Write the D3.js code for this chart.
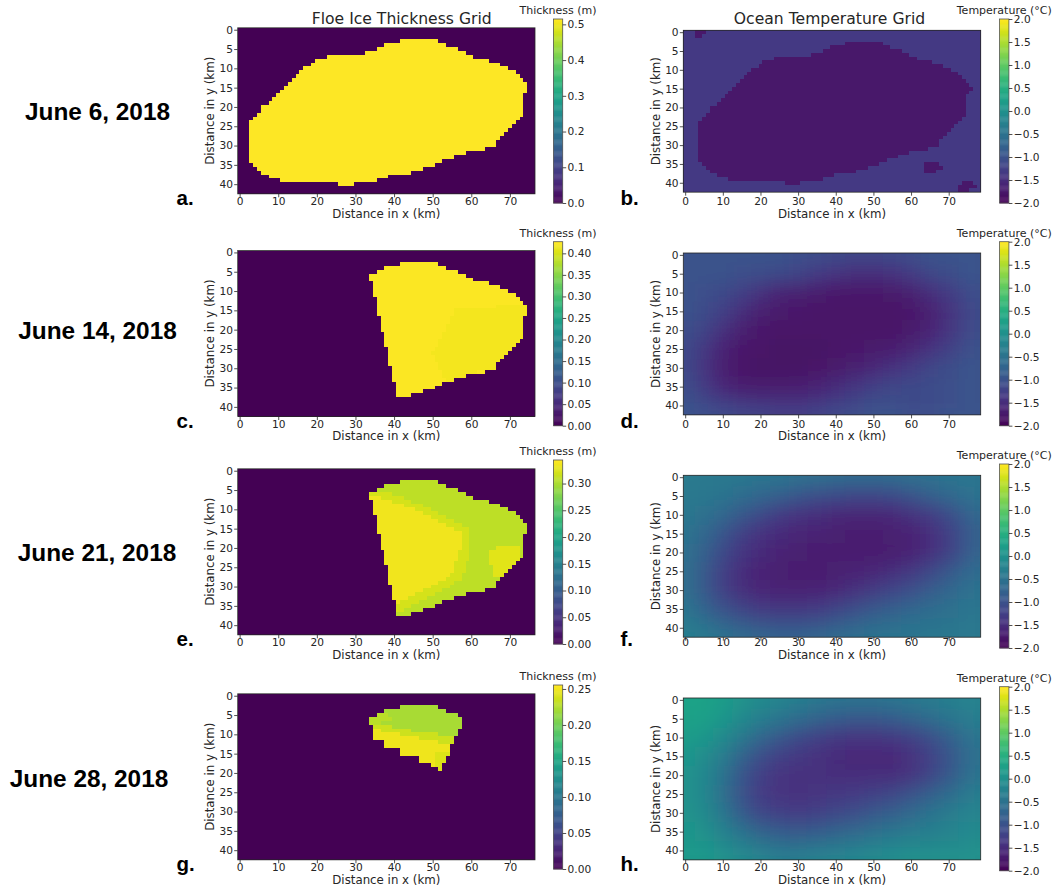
<!DOCTYPE html>
<html>
<head>
<meta charset="utf-8">
<title>Floe ice thickness and ocean temperature grids</title>
<script src="https://cdn.jsdelivr.net/npm/d3@7"></script>
<style>
  html, body { margin: 0; padding: 0; background: #ffffff; }
  svg { display: block; }
</style>
</head>
<body>
<svg id="fig" width="1055" height="892"></svg>
<script>
// ---------------- data ----------------
const dateLabels = ["June 6, 2018", "June 14, 2018", "June 21, 2018", "June 28, 2018"];
const iceLetters = ["a.", "c.", "e.", "g."];
const oceanLetters = ["b.", "d.", "f.", "h."];

// grid sizes (1 km cells)
const iceCols = 77, oceanCols = 79, gridRows = 43;
const xTicks = [0, 10, 20, 30, 40, 50, 60, 70];
const yTicks = [0, 5, 10, 15, 20, 25, 30, 35, 40];

// thickness colour limits (m) and colourbar ticks
const thickMax = [0.515, 0.427, 0.344, 0.2555];
const thickTicks = [
  [0, 0.1, 0.2, 0.3, 0.4, 0.5],
  [0, 0.05, 0.10, 0.15, 0.20, 0.25, 0.30, 0.35, 0.40],
  [0, 0.05, 0.10, 0.15, 0.20, 0.25, 0.30],
  [0, 0.05, 0.10, 0.15, 0.20, 0.25]
];
const thickTickFormat = [".1f", ".2f", ".2f", ".2f"];

// temperature colour limits (°C) and ticks
const tempDomain = [-2, 2];
const tempTicks = [-2, -1.5, -1, -0.5, 0, 0.5, 1, 1.5, 2];

// floe outlines: [row, first column, last column]
const floeJun6 = [[3,42,51],[4,38,53],[5,36,56],[6,33,58],[7,23,60],[8,20,64],[9,19,67],[10,17,69],
  [11,16,71],[12,15,72],[13,14,73],[14,13,74],[15,12,74],[16,11,74],[17,10,73],[18,9,73],[19,8,73],
  [20,6,73],[21,6,73],[22,5,73],[23,4,72],[24,3,71],[25,3,70],[26,3,69],[27,3,68],[28,3,67],[29,3,66],
  [30,3,66],[31,3,63],[32,3,58],[33,3,55],[34,3,52],[35,4,50],[36,5,47],[37,6,44],[38,8,38],[39,11,35],
  [40,26,29]];
const floeJun14 = [[3,42,51],[4,38,53],[5,36,56],[6,34,58],[7,34,60],[8,35,64],[9,35,67],[10,35,69],
  [11,35,71],[12,36,72],[13,36,73],[14,36,74],[15,36,74],[16,36,74],[17,37,73],[18,37,73],[19,37,73],
  [20,37,73],[21,38,73],[22,38,73],[23,38,72],[24,38,71],[25,39,70],[26,39,69],[27,39,68],[28,39,67],
  [29,39,66],[30,40,66],[31,40,63],[32,40,58],[33,40,55],[34,41,52],[35,41,50],[36,41,47],[37,41,44]];
const floeJun21 = floeJun14;
const floeJun28 = [[3,42,51],[4,38,53],[5,36,56],[6,34,57],[7,34,57],[8,35,57],[9,35,56],[10,35,56],
  [11,35,55],[12,38,55],[13,38,54],[14,42,54],[15,42,54],[16,47,53],[17,47,53],[18,50,52],[19,52,52]];
const floeOutlines = [floeJun6, floeJun14, floeJun21, floeJun28];

// thickness inside each floe: base value plus zones (km polygons, later zones on top)
const iceBase = [0.515, 0.425, 0.31, 0.222];
const iceZones = [
  [],
  [ { v: 0.419, poly: [[56,15],[77,13],[77,31],[62,31],[54,34],[50,26]] } ],
  [ { v: 0.322, poly: [[30,4.5],[38,5.5],[45,8],[52,11],[60,15.5],[59.5,22],[57.5,28],[53,31],[48,33.5],[44,35.5],[40,37.5],[30,38]] },
    { v: 0.337, poly: [[30,5.5],[37,7],[43,9],[50,12],[58,16.5],[56.5,22],[55,27],[51,29.5],[47,31.5],[43,33.5],[39,35],[30,35.5]] },
    { v: 0.329, poly: [[64.5,21],[68,19.5],[73,19.5],[73,24],[69,27.5],[65.5,27]] } ],
  [ { v: 0.229, poly: [[33,4.5],[38,4.5],[40,6.5],[33,7.5]] },
    { v: 0.236, poly: [[30,6.5],[40,8],[48,9.6],[56,10.6],[60,10.8],[60,25],[30,25]] },
    { v: 0.249, poly: [[30,8],[40,9.6],[48,11.2],[55,12.8],[60,13.5],[60,25],[30,25]] },
    { v: 0.242, poly: [[51,15],[60,14],[60,25],[51,25]] } ]
];

// ocean temperature on June 6: cold water under the floe and a few cold patches
const oceanColdJun6 = [[0,3,5],[1,3,4],
  [3,43,52],[4,39,54],[5,37,57],[6,34,59],[7,24,61],[8,21,65],[9,20,68],[10,18,70],[11,17,72],
  [12,16,73],[13,15,74],[14,14,75],[15,13,76],[16,12,75],[17,11,74],[18,10,74],[19,9,74],[20,7,74],
  [21,7,74],[22,6,74],[23,5,73],[24,4,72],[25,4,71],[26,4,70],[27,4,69],[28,4,68],[29,4,67],[30,4,67],
  [31,4,64],[32,4,59],[33,4,56],[34,4,53],[35,5,51],[36,6,48],[37,7,45],[38,9,39],[39,12,36],[40,27,30],
  [35,64,67],[36,64,68],[37,64,66],[40,74,76],[41,73,77],[42,73,75]];
const oceanColdJun6Temp = -1.75;
const oceanOpenJun6Temp = -1.33;

// later ocean temperature fields, sampled every 5 km
const sampleX = [0, 5, 10, 15, 20, 25, 30, 35, 40, 45, 50, 55, 60, 65, 70, 75, 78];
const sampleY = [0, 5, 10, 15, 20, 25, 30, 35, 40, 42];
const tempJun14 = [
  [-1.0,-1.0,-1.0,-1.0,-1.0,-1.0,-1.02,-1.05,-1.1,-1.15,-1.15,-1.1,-1.05,-1.0,-1.0,-1.0,-1.0],
  [-1.0,-1.0,-1.0,-1.02,-1.05,-1.1,-1.2,-1.3,-1.4,-1.5,-1.5,-1.45,-1.3,-1.15,-1.05,-1.0,-1.0],
  [-1.0,-1.02,-1.1,-1.25,-1.45,-1.6,-1.65,-1.7,-1.75,-1.75,-1.75,-1.72,-1.65,-1.5,-1.3,-1.1,-1.02],
  [-1.0,-1.08,-1.25,-1.5,-1.65,-1.72,-1.75,-1.77,-1.78,-1.78,-1.78,-1.78,-1.75,-1.65,-1.45,-1.2,-1.08],
  [-1.05,-1.2,-1.45,-1.65,-1.75,-1.78,-1.78,-1.78,-1.78,-1.78,-1.78,-1.77,-1.72,-1.6,-1.4,-1.15,-1.05],
  [-1.1,-1.35,-1.62,-1.75,-1.78,-1.8,-1.8,-1.8,-1.78,-1.75,-1.72,-1.68,-1.58,-1.42,-1.22,-1.05,-1.0],
  [-1.1,-1.4,-1.65,-1.77,-1.8,-1.8,-1.8,-1.78,-1.72,-1.65,-1.55,-1.42,-1.3,-1.15,-1.05,-1.0,-1.0],
  [-1.05,-1.3,-1.55,-1.68,-1.7,-1.7,-1.68,-1.62,-1.52,-1.38,-1.25,-1.15,-1.1,-1.08,-1.02,-1.0,-1.0],
  [-1.0,-1.1,-1.22,-1.32,-1.38,-1.4,-1.4,-1.35,-1.25,-1.15,-1.05,-1.05,-1.1,-1.08,-1.02,-1.0,-1.0],
  [-1.0,-1.02,-1.08,-1.15,-1.2,-1.22,-1.22,-1.18,-1.1,-1.05,-1.0,-1.0,-1.02,-1.02,-1.0,-1.0,-1.0]
];
const tempJun21 = [
  [-0.35,-0.38,-0.4,-0.42,-0.45,-0.48,-0.52,-0.56,-0.6,-0.62,-0.62,-0.6,-0.56,-0.52,-0.48,-0.45,-0.45],
  [-0.38,-0.42,-0.48,-0.58,-0.7,-0.82,-0.95,-1.05,-1.12,-1.18,-1.18,-1.1,-0.98,-0.82,-0.68,-0.55,-0.5],
  [-0.42,-0.52,-0.68,-0.9,-1.12,-1.3,-1.42,-1.5,-1.55,-1.58,-1.58,-1.55,-1.45,-1.3,-1.08,-0.82,-0.65],
  [-0.48,-0.66,-0.95,-1.22,-1.42,-1.52,-1.58,-1.62,-1.65,-1.66,-1.66,-1.65,-1.6,-1.48,-1.25,-0.95,-0.75],
  [-0.52,-0.78,-1.1,-1.38,-1.52,-1.6,-1.65,-1.67,-1.68,-1.68,-1.68,-1.66,-1.6,-1.46,-1.22,-0.9,-0.7],
  [-0.55,-0.88,-1.25,-1.48,-1.6,-1.65,-1.67,-1.67,-1.65,-1.62,-1.57,-1.48,-1.35,-1.15,-0.92,-0.7,-0.58],
  [-0.55,-0.88,-1.25,-1.48,-1.57,-1.62,-1.63,-1.6,-1.55,-1.45,-1.32,-1.18,-1.02,-0.86,-0.7,-0.56,-0.5],
  [-0.45,-0.72,-1.0,-1.2,-1.32,-1.36,-1.36,-1.3,-1.2,-1.06,-0.92,-0.8,-0.7,-0.6,-0.52,-0.46,-0.45],
  [-0.35,-0.48,-0.65,-0.8,-0.9,-0.95,-0.95,-0.9,-0.8,-0.7,-0.6,-0.55,-0.5,-0.47,-0.45,-0.42,-0.42],
  [-0.3,-0.38,-0.5,-0.6,-0.68,-0.72,-0.72,-0.68,-0.6,-0.55,-0.5,-0.46,-0.44,-0.42,-0.4,-0.4,-0.4]
];
const tempJun28 = [
  [0.3,0.3,0.2,0.05,-0.1,-0.2,-0.3,-0.4,-0.45,-0.5,-0.5,-0.45,-0.4,-0.35,-0.3,-0.25,-0.25],
  [0.3,0.25,0.1,-0.1,-0.3,-0.45,-0.6,-0.75,-0.85,-0.9,-0.9,-0.85,-0.75,-0.6,-0.45,-0.35,-0.3],
  [0.2,0.1,-0.1,-0.4,-0.7,-0.9,-1.1,-1.25,-1.35,-1.4,-1.4,-1.35,-1.25,-1.05,-0.8,-0.55,-0.45],
  [0.1,-0.05,-0.35,-0.75,-1.05,-1.25,-1.35,-1.45,-1.52,-1.55,-1.56,-1.56,-1.45,-1.25,-0.95,-0.65,-0.5],
  [0.05,-0.15,-0.5,-0.95,-1.25,-1.4,-1.45,-1.45,-1.5,-1.5,-1.5,-1.5,-1.4,-1.2,-0.9,-0.6,-0.45],
  [0.05,-0.15,-0.55,-1.0,-1.3,-1.4,-1.42,-1.4,-1.35,-1.3,-1.25,-1.15,-1.0,-0.8,-0.6,-0.4,-0.3],
  [0.05,-0.1,-0.45,-0.85,-1.15,-1.25,-1.3,-1.25,-1.15,-1.05,-0.9,-0.8,-0.65,-0.5,-0.35,-0.25,-0.2],
  [0.1,0.0,-0.25,-0.5,-0.75,-0.85,-0.9,-0.85,-0.75,-0.65,-0.55,-0.45,-0.35,-0.3,-0.2,-0.15,-0.1],
  [0.15,0.1,-0.05,-0.2,-0.35,-0.45,-0.45,-0.4,-0.35,-0.3,-0.2,-0.15,-0.1,-0.1,-0.05,-0.05,0.0],
  [0.15,0.15,0.05,-0.1,-0.2,-0.3,-0.3,-0.25,-0.2,-0.15,-0.1,-0.05,0.0,0.0,0.0,0.0,0.0]
];
const smoothFields = [null, tempJun14, tempJun21, tempJun28];

// ---------------- layout ----------------
const iceFrame = { x: 237.7, w: 297.3 };
const oceanFrame = { x: 683.3, w: 297.4 };
const iceBar = { x: 553.4, w: 9.3 };
const oceanBar = { x: 999.6, w: 9.3 };
const barH = 184;
const iceBarTop = [19, 241.7, 460, 685];
const oceanBarTop = [19, 241.7, 464, 686.7];
const dateCenter = [[97.5, 111], [97.5, 330], [97, 552], [89, 778]];

const SANS = '"DejaVu Sans", "Liberation Sans", sans-serif';
const BOLD = '"Liberation Sans", Arial, Helvetica, sans-serif';
const INK = "#262626";
const TICK_FONT = 10.6;

const svg = d3.select("#fig");
const defs = svg.append("defs");
defs.append("filter").attr("id", "soften")
  .attr("x", "-10%").attr("y", "-10%").attr("width", "120%").attr("height", "120%")
  .append("feGaussianBlur").attr("stdDeviation", 9);

const tempColor = d3.scaleSequential(d3.interpolateViridis).domain(tempDomain);

function maskFromSegments(segs, ncols) {
  const m = d3.range(gridRows).map(() => new Array(ncols).fill(false));
  segs.forEach(([r, a, b]) => { for (let c = a; c <= b; c++) m[r][c] = true; });
  return m;
}

function iceCells(k) {
  const mask = maskFromSegments(floeOutlines[k], iceCols);
  const cells = [];
  for (let j = 0; j < gridRows; j++) {
    for (let i = 0; i < iceCols; i++) {
      let v = 0;
      if (mask[j][i]) {
        v = iceBase[k];
        iceZones[k].forEach(z => { if (d3.polygonContains(z.poly, [i, j])) v = z.v; });
      }
      cells.push({ i, j, v });
    }
  }
  return cells;
}

function oceanJun6Cells() {
  const mask = maskFromSegments(oceanColdJun6, oceanCols);
  const cells = [];
  for (let j = 0; j < gridRows; j++)
    for (let i = 0; i < oceanCols; i++)
      cells.push({ i, j, v: mask[j][i] ? oceanColdJun6Temp : oceanOpenJun6Temp });
  return cells;
}

function drawCells(g, cells, xs, ys, color) {
  g.append("g").selectAll("rect").data(cells).join("rect")
    .attr("x", d => xs(d.i - 0.5))
    .attr("y", d => ys(d.j - 0.5))
    .attr("width", d => xs(d.i + 0.5) - xs(d.i - 0.5))
    .attr("height", d => ys(d.j + 0.5) - ys(d.j - 0.5))
    .attr("fill", d => color(d.v))
    .attr("shape-rendering", "crispEdges");
}

function sampleEdges(samples, lo, hi) {
  const e = [lo];
  for (let k = 1; k < samples.length; k++) e.push((samples[k - 1] + samples[k]) / 2);
  e.push(hi);
  return e;
}

function drawSmoothField(g, field, xs, ys, clipId) {
  const ex = sampleEdges(sampleX, -15, 95);
  const ey = sampleEdges(sampleY, -15, 60);
  const cells = [];
  field.forEach((row, j) => row.forEach((v, i) => cells.push({ i, j, v })));
  g.append("g").attr("clip-path", `url(#${clipId})`)
    .append("g").attr("filter", "url(#soften)")
    .selectAll("rect").data(cells).join("rect")
    .attr("x", d => xs(ex[d.i]))
    .attr("y", d => ys(ey[d.j]))
    .attr("width", d => xs(ex[d.i + 1]) - xs(ex[d.i]) + 0.6)
    .attr("height", d => ys(ey[d.j + 1]) - ys(ey[d.j]) + 0.6)
    .attr("fill", d => tempColor(d.v));
}

function styleAxis(sel, fontSize) {
  sel.select(".domain").remove();
  sel.selectAll(".tick line").attr("stroke", INK).attr("stroke-width", 0.8);
  sel.selectAll(".tick text").attr("fill", INK)
    .attr("font-family", SANS).attr("font-size", fontSize);
}

function drawAxes(g, xs, ys, frame, top, h, barTop) {
  const bottom = top + h;
  const gx = g.append("g").attr("transform", `translate(0,${bottom})`)
    .call(d3.axisBottom(xs).tickValues(xTicks).tickSize(3.5).tickFormat(d3.format("d")));
  styleAxis(gx, TICK_FONT);
  gx.selectAll(".tick text").attr("dy", null).attr("y", barTop + 185.9 - bottom);

  const gy = g.append("g").attr("transform", `translate(${frame.x},0)`)
    .call(d3.axisLeft(ys).tickValues(yTicks).tickSize(3.5).tickPadding(1.2).tickFormat(d3.format("d")));
  styleAxis(gy, TICK_FONT);

  g.append("rect").attr("x", frame.x).attr("y", top)
    .attr("width", frame.w).attr("height", h)
    .attr("fill", "none").attr("stroke", INK).attr("stroke-width", 0.8);

  g.append("text").attr("x", frame.x + frame.w / 2).attr("y", barTop + 198.5)
    .attr("text-anchor", "middle").attr("font-family", SANS).attr("font-size", 11.8)
    .attr("fill", INK).text("Distance in x (km)");

  const cy = top + h / 2;
  g.append("text").attr("transform", `translate(${frame.x - 23.6},${cy}) rotate(-90)`)
    .attr("text-anchor", "middle").attr("font-family", SANS).attr("font-size", 11.8)
    .attr("fill", INK).text("Distance in y (km)");
}

function drawColorbar(g, bar, top, color, domain, ticks, fmt, label) {
  const y = d3.scaleLinear().domain(domain).range([top + barH, top]);
  const n = 200;
  const step = (domain[1] - domain[0]) / n;
  const stops = d3.range(n).map(k => domain[0] + k * step);
  g.append("g").selectAll("rect").data(stops).join("rect")
    .attr("x", bar.x).attr("width", bar.w)
    .attr("y", d => y(d + step))
    .attr("height", d => y(d) - y(d + step) + 0.4)
    .attr("fill", d => color(d + step / 2));
  g.append("rect").attr("x", bar.x).attr("y", top).attr("width", bar.w).attr("height", barH)
    .attr("fill", "none").attr("stroke", "#555").attr("stroke-width", 0.8);
  const ga = g.append("g").attr("transform", `translate(${bar.x + bar.w},0)`)
    .call(d3.axisRight(y).tickValues(ticks).tickSize(3.5).tickPadding(1.4).tickFormat(d3.format(fmt)));
  styleAxis(ga, TICK_FONT);
  g.append("text").attr("x", bar.x + bar.w / 2).attr("y", top - 4.6)
    .attr("text-anchor", "middle").attr("font-family", SANS).attr("font-size", 11)
    .attr("fill", INK).text(label);
}

// ---------------- draw rows ----------------
dateLabels.forEach((date, r) => {
  const row = svg.append("g");

  // ice thickness panel
  const iTop = iceBarTop[r] + 8.8;
  const iH = iceFrame.w * gridRows / iceCols;
  const ixs = d3.scaleLinear().domain([-0.5, iceCols - 0.5]).range([iceFrame.x, iceFrame.x + iceFrame.w]);
  const iys = d3.scaleLinear().domain([-0.5, gridRows - 0.5]).range([iTop, iTop + iH]);
  const thickColor = d3.scaleSequential(d3.interpolateViridis).domain([0, thickMax[r]]);
  drawCells(row, iceCells(r), ixs, iys, thickColor);
  drawAxes(row, ixs, iys, iceFrame, iTop, iH, iceBarTop[r]);
  drawColorbar(row, iceBar, iceBarTop[r], thickColor, [0, thickMax[r]], thickTicks[r], thickTickFormat[r], "Thickness (m)");

  // ocean temperature panel
  const oTop = oceanBarTop[r] + 11.3;
  const oH = oceanFrame.w * gridRows / oceanCols;
  const oxs = d3.scaleLinear().domain([-0.5, oceanCols - 0.5]).range([oceanFrame.x, oceanFrame.x + oceanFrame.w]);
  const oys = d3.scaleLinear().domain([-0.5, gridRows - 0.5]).range([oTop, oTop + oH]);
  if (smoothFields[r]) {
    const clipId = "oceanClip" + r;
    defs.append("clipPath").attr("id", clipId).append("rect")
      .attr("x", oceanFrame.x).attr("y", oTop).attr("width", oceanFrame.w).attr("height", oH);
    drawSmoothField(row, smoothFields[r], oxs, oys, clipId);
  } else {
    drawCells(row, oceanJun6Cells(), oxs, oys, tempColor);
  }
  drawAxes(row, oxs, oys, oceanFrame, oTop, oH, iceBarTop[r]);
  drawColorbar(row, oceanBar, oceanBarTop[r], tempColor, tempDomain, tempTicks, ".1f", "Temperature (°C)");

  // date and panel letters
  row.append("text").attr("x", dateCenter[r][0]).attr("y", dateCenter[r][1] + 8.8)
    .attr("text-anchor", "middle").attr("font-family", BOLD).attr("font-weight", "bold")
    .attr("font-size", 24.4).attr("fill", "#000").text(date);
  row.append("text").attr("x", 176.5).attr("y", iceBarTop[r] + 186.3)
    .attr("font-family", BOLD).attr("font-weight", "bold").attr("font-size", 20.5)
    .attr("fill", "#000").text(iceLetters[r]);
  row.append("text").attr("x", 620.5).attr("y", iceBarTop[r] + 186.3)
    .attr("font-family", BOLD).attr("font-weight", "bold").attr("font-size", 20.5)
    .attr("fill", "#000").text(oceanLetters[r]);
});

// column titles
svg.append("text").attr("x", 401.7).attr("y", 23.8).attr("text-anchor", "middle")
  .attr("font-family", SANS).attr("font-size", 15.6).attr("fill", INK).text("Floe Ice Thickness Grid");
svg.append("text").attr("x", 829.5).attr("y", 23.8).attr("text-anchor", "middle")
  .attr("font-family", SANS).attr("font-size", 15.6).attr("fill", INK).text("Ocean Temperature Grid");
</script>
</body>
</html>
